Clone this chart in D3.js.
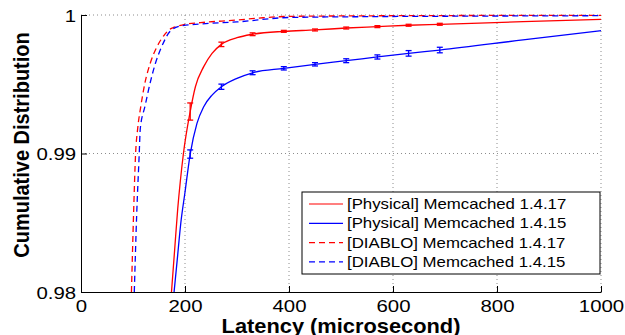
<!DOCTYPE html>
<html>
<head>
<meta charset="utf-8">
<script src="https://cdnjs.cloudflare.com/ajax/libs/d3/7.8.5/d3.min.js"></script>
<style>
body{margin:0;background:#fff;}
svg{display:block;font-family:"Liberation Sans",Arial,Helvetica,sans-serif;}
</style>
</head>
<body>
<svg id="canvas" width="625" height="335"></svg>
<script>
// ticks
const xTicks=[0,200,400,600,800,1000];
const yTicks=[0.98,0.99,1];

// legend names, same order as the series below
const seriesNames=["[Physical] Memcached 1.4.17","[Physical] Memcached 1.4.15","[DIABLO] Memcached 1.4.17","[DIABLO] Memcached 1.4.15"];

// [Physical] Memcached 1.4.17 (latency in microseconds, CDF)
const phys17Lat=[174,180,186,191,197,210,220,236,252,270,300,330,390,450,510,570,630,690,850,1000];
const phys17Cdf=[0.9800,0.9830,0.9860,0.9880,0.9900,0.99303,0.99482,0.99627,0.99723,0.99788,0.99836,0.99861,0.99882,0.99892,0.99906,0.99916,0.99926,0.99933,0.99952,0.99969];

// [Physical] Memcached 1.4.15
const phys15Lat=[179,185,192,200,210,223,236,252,270,300,330,390,450,510,570,630,690,850,1000];
const phys15Cdf=[0.9800,0.9823,0.9850,0.9872,0.98996,0.99218,0.99338,0.99422,0.99482,0.99543,0.99583,0.99615,0.99644,0.99670,0.99697,0.99723,0.99747,0.99820,0.99887];

// [DIABLO] Memcached 1.4.17
const diablo17Lat=[97,101,105,109,115,123,133,146,159,172,178,204,230,300,350,400,550,700,1000];
const diablo17Cdf=[0.9800,0.9855,0.9900,0.9918,0.9934,0.9951,0.9965,0.9977,0.9985,0.9990,0.9991,0.99935,0.99945,0.99964,0.99980,0.99990,0.99994,0.99996,0.99998];

// [DIABLO] Memcached 1.4.15
const diablo15Lat=[102.5,107,112,114,123,133,143,155,172,191,230,300,400,550,700,1000];
const diablo15Cdf=[0.9800,0.9855,0.9900,0.9918,0.9934,0.9951,0.9965,0.9977,0.99885,0.9992,0.99935,0.9995,0.99982,0.99988,0.99991,0.99995];

// error bars (half widths) at these latencies, physical runs only
const errLat=[210,270,330,390,450,510,570,630,690];
const phys17Err=[0.00062,0.00016,0.00010,0.00007,0.00007,0.00007,0.00007,0.00007,0.00007];
const phys15Err=[0.00030,0.00019,0.00014,0.00012,0.00012,0.00014,0.00015,0.00020,0.00020];

const colors=["#ff0000","#0000ff","#ff0000","#0000ff"];
const dashes=[null,null,"6,4","6,4"];
const stretch=1.2; // the reference text is drawn wide

let canvas=d3.select("#canvas");

const x=d3.scaleLinear().domain([0,1000]).range([81,601]);
const y=d3.scaleLinear().domain([0.98,1]).range([292,15]);

// dotted grid
let grid=canvas.append('g').attr('stroke','#8c8c8c').attr('stroke-width',1).attr('stroke-dasharray','1,3');
grid.selectAll('.gx').data(xTicks.slice(1)).join('line')
    .attr('x1',d=>x(d)).attr('x2',d=>x(d))
    .attr('y1',y(0.98)).attr('y2',y(1));
grid.selectAll('.gy').data(yTicks.slice(1)).join('line')
    .attr('x1',x(0)).attr('x2',x(1000))
    .attr('y1',d=>y(d)).attr('y2',d=>y(d));

canvas.append('clipPath').attr('id','plotclip')
    .append('rect').attr('x',x(0)).attr('y',y(1)-3).attr('width',x(1000)-x(0)+2).attr('height',y(0.98)-y(1)+3);

const series=[
    {lat:phys17Lat,cdf:phys17Cdf,err:phys17Err},
    {lat:phys15Lat,cdf:phys15Cdf,err:phys15Err},
    {lat:diablo17Lat,cdf:diablo17Cdf},
    {lat:diablo15Lat,cdf:diablo15Cdf}
];

let line=d3.line()
    .x(d=>x(d[0]))
    .y(d=>y(d[1]))
    .curve(d3.curveMonotoneX);

let plot=canvas.append('g').attr('clip-path','url(#plotclip)');
series.forEach((s,i)=>{
    plot.append('path')
        .datum(s.lat.map((v,j)=>[v,s.cdf[j]]))
        .attr('d',line)
        .attr('fill','none')
        .attr('stroke',colors[i])
        .attr('stroke-width',1.3)
        .attr('stroke-dasharray',dashes[i]);
});

// error bars on the two physical curves
series.slice(0,2).forEach((s,i)=>{
    let pts=errLat.map((v,j)=>({lat:v,cdf:s.cdf[s.lat.indexOf(v)],e:s.err[j]}));
    let eb=canvas.append('g').attr('stroke',colors[i]).attr('stroke-width',1.3);
    eb.selectAll('.v').data(pts).join('line')
        .attr('x1',d=>x(d.lat)).attr('x2',d=>x(d.lat))
        .attr('y1',d=>y(d.cdf-d.e)).attr('y2',d=>y(d.cdf+d.e));
    eb.selectAll('.lo').data(pts).join('line')
        .attr('x1',d=>x(d.lat)-3).attr('x2',d=>x(d.lat)+3)
        .attr('y1',d=>y(d.cdf-d.e)).attr('y2',d=>y(d.cdf-d.e));
    eb.selectAll('.hi').data(pts).join('line')
        .attr('x1',d=>x(d.lat)-3).attr('x2',d=>x(d.lat)+3)
        .attr('y1',d=>y(d.cdf+d.e)).attr('y2',d=>y(d.cdf+d.e));
});

// axes, ticks pointing inward
canvas.append('g')
    .attr('transform','translate(0,'+y(0.98)+')')
    .call(d3.axisBottom(x).tickValues(xTicks).tickFormat(d3.format('d'))
        .tickSizeInner(-6).tickSizeOuter(0).tickPadding(8))
    .attr('font-size',17).attr('font-family',null)
    .call(g=>g.selectAll('text').attr('fill','#000').attr('transform','scale('+stretch+',1)'));

canvas.append('g')
    .attr('transform','translate('+x(0)+',0)')
    .call(d3.axisLeft(y).tickValues(yTicks)
        .tickFormat(d=>d===1?'1':d3.format('.2f')(d))
        .tickSizeInner(-6).tickSizeOuter(0).tickPadding(4))
    .attr('font-size',17).attr('font-family',null)
    .call(g=>g.selectAll('text').attr('fill','#000').attr('dy','0.38em').attr('transform','scale('+stretch+',1)'));

// axis titles
canvas.append('text')
    .attr('transform','translate(341,332.5) scale(1.12,1)')
    .attr('text-anchor','middle')
    .attr('font-size',19.5).attr('font-weight','bold')
    .text('Latency (microsecond)');

canvas.append('text')
    .attr('transform','translate(29,145) rotate(-90) scale(1,1.1)')
    .attr('text-anchor','middle')
    .attr('font-size',20).attr('font-weight','bold')
    .text('Cumulative Distribution');

// legend
let legend=canvas.append('g');
legend.append('rect')
    .attr('x',302).attr('y',192).attr('width',298).attr('height',82)
    .attr('fill','#fff').attr('stroke','#000').attr('stroke-width',1);
let item=legend.selectAll('.item').data(seriesNames).join('g')
    .attr('transform',(d,i)=>'translate(0,'+(204+i*19.3)+')');
item.append('line')
    .attr('x1',309).attr('x2',343).attr('y1',0).attr('y2',0)
    .attr('stroke',(d,i)=>colors[i]).attr('stroke-width',1.2)
    .attr('stroke-dasharray',(d,i)=>dashes[i]);
item.append('text')
    .attr('transform','translate(347,5) scale(1.2,1)')
    .attr('font-size',14)
    .text(d=>d);
</script>
</body>
</html>
